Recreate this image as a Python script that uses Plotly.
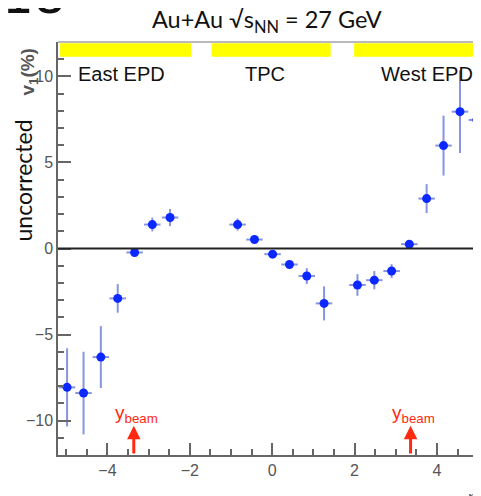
import plotly.graph_objects as go

# data
eta = [-4.98, -4.58, -4.16, -3.75, -3.34, -2.91, -2.48,
       -0.84, -0.43, 0.01, 0.42, 0.84, 1.26,
       2.07, 2.48, 2.90, 3.33, 3.75, 4.16, 4.56, 4.97]
v1 = [-8.07, -8.40, -6.31, -2.90, -0.23, 1.39, 1.80,
      1.39, 0.52, -0.33, -0.93, -1.60, -3.19,
      -2.12, -1.84, -1.31, 0.25, 2.90, 5.98, 7.95, 7.47]
v1_err = [2.27, 2.40, 1.80, 0.83, 0.12, 0.40, 0.50,
          0.35, 0.20, 0.15, 0.20, 0.46, 0.99,
          0.63, 0.53, 0.40, 0.15, 0.84, 1.74, 2.40, 2.08]
eta_err = [0.2] * len(eta)

x_ticks = [-4, -2, 0, 2, 4]
y_ticks = [-10, -5, 0, 5, 10]

regions = ["East EPD", "TPC", "West EPD"]
region_lo = [-5.15, -1.47, 1.99]
region_hi = [-1.97, 1.42, 5.2]
region_label_x = [-3.66, -0.17, 3.76]

y_beam = 3.36

X_RANGE = [-5.2, 5.07]
Y_RANGE = [-12, 12]

# page body has an 8px margin: work in window pixels, convert to figure pixels
OFF = 8
W, H = 481, 496
PL, PR, PT, PB = 57.7, 481, 41.7, 455   # plot area in window pixels
ML = PL - OFF
MT = PT - OFF
MR = W - (PR - OFF)
MB = H - (PB - OFF)
PW, PH = PR - PL, PB - PT


def px(x):
    return (x - PL) / PW


def py(y):
    return (PB - y) / PH


fig = go.Figure()
fig.add_trace(go.Scatter(
    x=eta, y=v1, mode="markers",
    marker=dict(color="#0a28ff", size=9),
    error_y=dict(type="data", array=v1_err, visible=True, thickness=2,
                 width=0, color="rgba(70,90,205,0.65)"),
    error_x=dict(type="data", array=eta_err, visible=True, thickness=2,
                 width=0, color="rgba(70,90,205,0.65)"),
    showlegend=False, cliponaxis=False,
))

shapes = []
for lo, hi in zip(region_lo, region_hi):
    shapes.append(dict(type="rect", xref="x", yref="y", x0=lo, x1=hi,
                       y0=11.15, y1=11.93, fillcolor="#ffff00",
                       line=dict(width=0), layer="below"))
shapes.append(dict(type="line", xref="paper", yref="paper", x0=0, x1=1,
                   y0=1, y1=1, line=dict(color="#777", width=1.2)))
shapes.append(dict(type="line", xref="x", yref="y", x0=X_RANGE[0], x1=X_RANGE[1],
                   y0=0, y1=0, line=dict(color="#222", width=2)))
fig.update_layout(shapes=shapes)

ann = []
for name, lx in zip(regions, region_label_x):
    ann.append(dict(x=lx, y=10.15, xref="x", yref="y", text=name,
                    xanchor="center", yanchor="middle",
                    showarrow=False, font=dict(family="Liberation Sans", size=20,
                                               color="#111")))
for s in (-1, 1):
    ann.append(dict(x=s * y_beam, y=-10.3, xref="x", yref="y",
                    ax=s * y_beam, ay=-12, axref="x", ayref="y",
                    text="", showarrow=True, arrowhead=2, arrowsize=0.9,
                    arrowwidth=3, arrowcolor="#ff2a10"))
    ann.append(dict(x=s * y_beam + 0.07, y=-9.6, xref="x", yref="y",
                    xanchor="center", yanchor="middle",
                    text="y<sub>beam</sub>", showarrow=False,
                    font=dict(family="Liberation Sans", size=19, color="#ff2a10")))

ann.append(dict(x=px(267), y=py(21), xref="paper", yref="paper",
                xanchor="center", yanchor="middle",
                text="Au+Au √s<sub>NN</sub> = 27 GeV", showarrow=False,
                font=dict(family="Lato", size=23.5, color="#111")))
ann.append(dict(x=px(0), y=py(27), xref="paper", yref="paper", xanchor="left",
                yanchor="bottom", text="18", showarrow=False,
                font=dict(family="DejaVu Sans", size=50, color="#111")))
ann.append(dict(x=px(23), y=py(180), xref="paper", yref="paper",
                xanchor="center", yanchor="middle",
                text="uncorrected", textangle=-90, showarrow=False,
                font=dict(family="Lato", size=23, color="#111")))
ann.append(dict(x=px(29), y=py(71), xref="paper", yref="paper",
                xanchor="center", yanchor="middle",
                text="<b>v<sub>1</sub>(%)</b>", textangle=-90, showarrow=False,
                font=dict(family="Liberation Sans", size=19, color="#555")))
ann.append(dict(x=px(473), y=py(486), xref="paper", yref="paper",
                xanchor="center", yanchor="top",
                text="η", showarrow=False,
                font=dict(family="Liberation Sans", size=18, color="#555")))
fig.update_layout(annotations=ann)

axis_common = dict(showgrid=False, zeroline=False, showline=True,
                   linecolor="#666", linewidth=1.5, ticks="inside",
                   tickcolor="#666", tickwidth=1.5,
                   tickfont=dict(family="Liberation Sans", size=16, color="#555"))
fig.update_xaxes(range=X_RANGE, tickvals=x_ticks, ticklen=12,
                 minor=dict(dtick=0.5, ticks="inside", ticklen=6,
                            tickcolor="#666", tickwidth=1.5),
                 **axis_common)
fig.update_yaxes(range=Y_RANGE, tickvals=y_ticks, ticklen=13,
                 minor=dict(dtick=1, ticks="inside", ticklen=6,
                            tickcolor="#666", tickwidth=1.5),
                 **axis_common)

fig.update_layout(width=W, height=H,
                  margin=dict(l=ML, r=MR, t=MT, b=MB),
                  plot_bgcolor="white", paper_bgcolor="white")

fig.write_html("out.html")
